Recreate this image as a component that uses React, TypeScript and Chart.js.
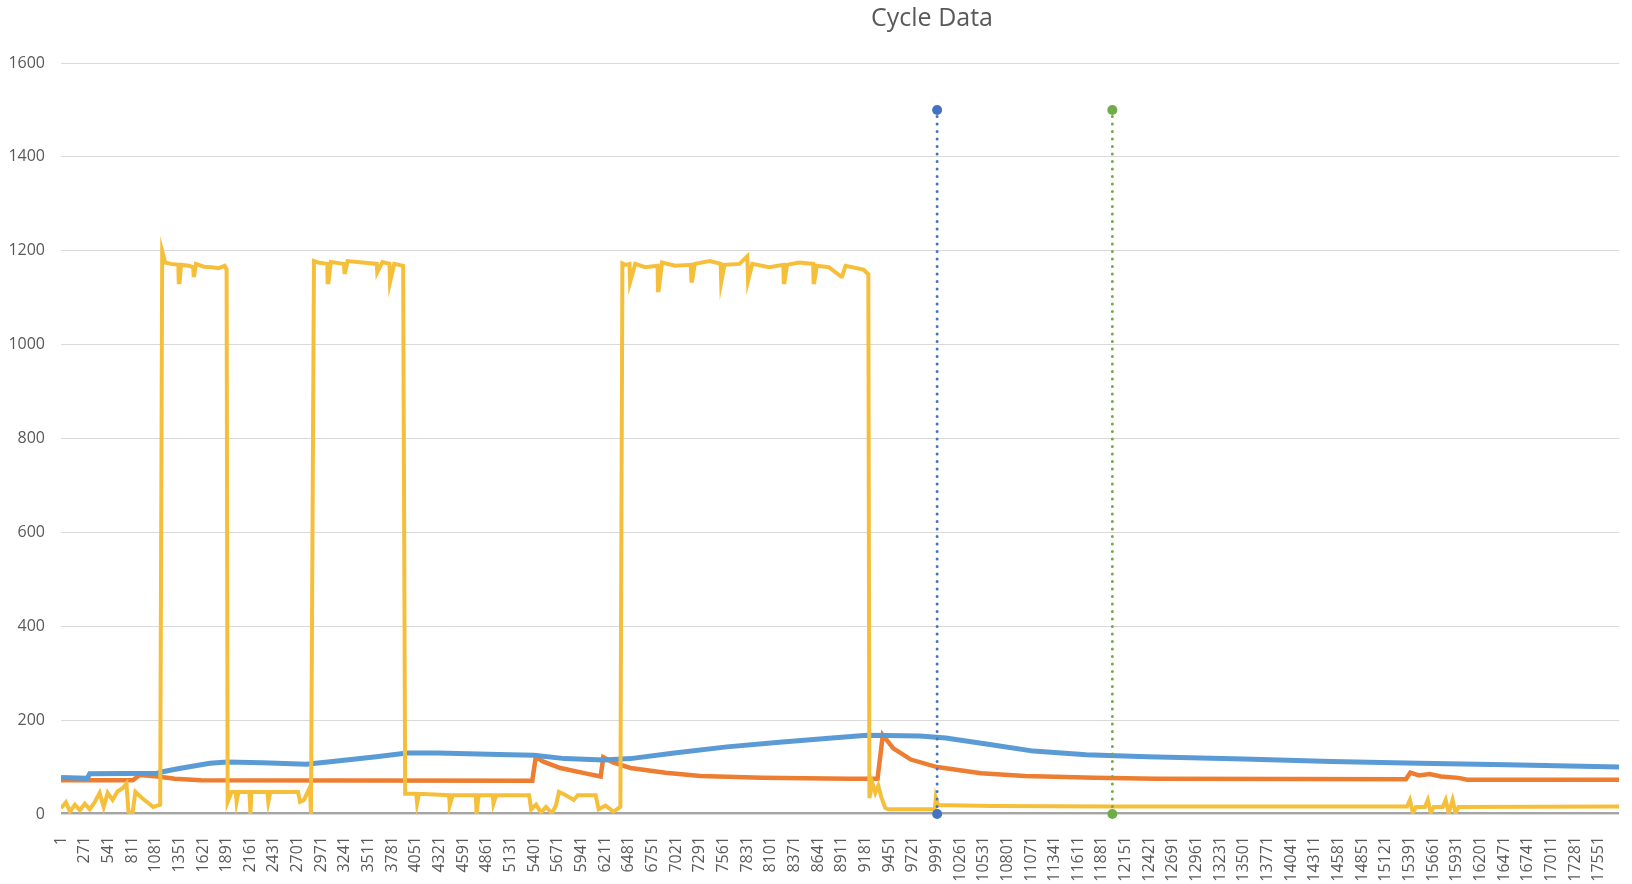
import React, { useEffect, useRef } from 'react';
import { Chart, registerables } from 'chart.js';

Chart.register(...registerables);

// category labels shown under the axis (every 270th cycle)
const cycleTicks = [
  1, 271, 541, 811, 1081, 1351, 1621, 1891, 2161, 2431, 2701, 2971, 3241, 3511, 3781, 4051, 4321,
  4591, 4861, 5131, 5401, 5671, 5941, 6211, 6481, 6751, 7021, 7291, 7561, 7831, 8101, 8371, 8641,
  8911, 9181, 9451, 9721, 9991, 10261, 10531, 10801, 11071, 11341, 11611, 11881, 12151, 12421,
  12691, 12961, 13231, 13501, 13771, 14041, 14311, 14581, 14851, 15121, 15391, 15661, 15931, 16201,
  16471, 16741, 17011, 17281, 17551,
];

const yTicks = [0, 200, 400, 600, 800, 1000, 1200, 1400, 1600];

// [cycle, value]
const yellowSeries: [number, number][] = [
  [1, 12], [57, 25], [103, 5], [160, 20], [216, 8], [273, 22], [329, 10], [386, 25], [442, 45],
  [488, 15], [533, 45], [590, 30], [646, 48], [703, 55], [748, 65], [771, 5], [816, 0], [850, 47],
  [918, 35], [986, 25], [1054, 15], [1133, 20],
  [1156, 1199], [1190, 1175], [1257, 1172], [1340, 1170], [1345, 1133], [1355, 1133], [1371, 1170],
  [1461, 1168], [1510, 1165], [1514, 1148], [1522, 1148], [1541, 1172], [1631, 1166], [1722, 1165],
  [1801, 1163], [1869, 1168], [1891, 1160],
  [1903, 26], [1948, 47], [1995, 47], [2005, 26], [2027, 47], [2152, 47], [2163, 0], [2175, 47],
  [2356, 47], [2367, 26], [2390, 47], [2706, 47], [2729, 26], [2774, 30], [2842, 57], [2854, 0],
  [2888, 1178], [2933, 1175], [3040, 1172], [3044, 1133], [3054, 1133], [3080, 1176], [3230, 1172],
  [3236, 1154], [3244, 1154], [3272, 1178], [3442, 1175], [3605, 1172], [3610, 1154], [3618, 1154],
  [3669, 1176], [3750, 1172], [3756, 1133], [3764, 1133], [3804, 1172], [3906, 1168],
  [3929, 43], [4055, 43], [4065, 23], [4087, 43], [4430, 40], [4438, 19], [4472, 40], [4735, 40],
  [4744, 0], [4767, 40], [4930, 40], [4937, 22], [4970, 40], [5344, 40], [5367, 10], [5423, 20],
  [5480, 3], [5536, 15], [5604, 2], [5650, 18], [5684, 47], [5763, 40], [5853, 30], [5899, 40],
  [6103, 40], [6137, 10], [6216, 18], [6306, 5], [6385, 15],
  [6408, 1173], [6442, 1170], [6490, 1172], [6496, 1133], [6504, 1133], [6555, 1172], [6668, 1165],
  [6810, 1168], [6814, 1116], [6822, 1116], [6861, 1175], [7008, 1168], [7190, 1170], [7196, 1136],
  [7204, 1136], [7234, 1172], [7404, 1178], [7530, 1172], [7536, 1133], [7544, 1133], [7574, 1170],
  [7744, 1172], [7834, 1188], [7842, 1136], [7850, 1136], [7891, 1172], [8083, 1165], [8245, 1170],
  [8250, 1133], [8258, 1133], [8287, 1170], [8423, 1175], [8585, 1172], [8590, 1133], [8598, 1133],
  [8627, 1168], [8763, 1165], [8905, 1145], [8915, 1145], [8955, 1168], [9159, 1160], [9215, 1150],
  [9227, 34], [9261, 66], [9295, 45], [9329, 60], [9363, 36], [9408, 13], [9442, 10], [9974, 10],
  [9985, 34], [10008, 19], [10630, 17], [12000, 16], [15362, 16], [15396, 30], [15430, 2],
  [15464, 15], [15566, 15], [15600, 30], [15634, 2], [15668, 15], [15770, 15], [15804, 30],
  [15838, 2], [15883, 30], [15917, 2], [15951, 15], [17785, 16],
];

const blueSeries: [number, number][] = [
  [1, 78], [300, 76], [330, 86], [1100, 87], [1160, 90], [1350, 97], [1700, 108], [1900, 111],
  [2300, 109], [2800, 106], [3100, 112], [3600, 122], [3950, 130], [4300, 130], [5000, 127],
  [5400, 125], [5750, 118], [6200, 115], [6500, 118], [7000, 130], [7600, 143], [8200, 153],
  [8800, 162], [9200, 168], [9800, 166], [10100, 162], [10600, 148], [11100, 134], [11700, 126],
  [12400, 122], [13500, 117], [14500, 112], [15500, 108], [16500, 105], [17785, 100],
];

const orangeSeries: [number, number][] = [
  [1, 72], [700, 72], [820, 72], [900, 83], [1100, 80], [1300, 75], [1600, 72], [5380, 71],
  [5420, 122], [5500, 112], [5700, 98], [6000, 86], [6160, 80], [6190, 121], [6300, 110],
  [6500, 98], [6900, 88], [7300, 81], [8000, 77], [9000, 75], [9320, 75], [9380, 168], [9500, 140],
  [9700, 116], [10000, 100], [10500, 87], [11000, 81], [11800, 77], [12500, 75], [15350, 74],
  [15400, 88], [15500, 82], [15620, 85], [15750, 80], [15950, 77], [16050, 73], [17785, 73],
];

const graySeries: [number, number][] = [[1, 0], [17785, 0]];

const markerBlue: [number, number][] = [[10000, 0], [10000, 1500]];
const markerGreen: [number, number][] = [[12000, 0], [12000, 1500]];

const toPoints = (s: [number, number][]) => s.map(([x, y]) => ({ x, y }));

const tickColor = '#595959';

const titlePlugin = {
  id: 'cycleTitle',
  afterDraw(chart: any) {
    const ctx = chart.ctx;
    ctx.save();
    ctx.font = '25px "Open Sans"';
    ctx.fillStyle = tickColor;
    ctx.textAlign = 'center';
    ctx.textBaseline = 'middle';
    ctx.fillText('Cycle Data', 932, 19);
    ctx.restore();
  },
};

const lineSet = (data: [number, number][], color: string, width: number) => ({
  data: toPoints(data),
  borderColor: color,
  backgroundColor: color,
  borderWidth: width,
  pointRadius: 0,
  tension: 0,
  fill: false,
});

const markerSet = (data: [number, number][], color: string) => ({
  data: toPoints(data),
  borderColor: color,
  backgroundColor: color,
  pointBackgroundColor: color,
  pointBorderColor: color,
  borderWidth: 3,
  borderDash: [0, 7.5],
  borderCapStyle: 'round',
  pointRadius: 5,
  pointBorderWidth: 0,
  tension: 0,
  fill: false,
  clip: false,
});

const CycleChart = () => {
  const chartRef = useRef<HTMLCanvasElement | null>(null);
  const chartInstance = useRef<Chart | null>(null);

  useEffect(() => {
    if (!chartRef.current) return;
    if (chartInstance.current) chartInstance.current.destroy();

    chartInstance.current = new Chart(chartRef.current, {
      type: 'line',
      data: {
        datasets: [
          markerSet(markerBlue, '#4472C4'),
          markerSet(markerGreen, '#70AD47'),
          lineSet(yellowSeries, '#F6BF3A', 4),
          lineSet(blueSeries, '#5B9BD5', 5),
          lineSet(orangeSeries, '#ED7D31', 4.5),
          lineSet(graySeries, '#A5A5A5', 4),
        ] as any,
      },
      options: {
        animation: false,
        responsive: true,
        maintainAspectRatio: false,
        layout: { padding: { top: 63, left: 0, right: 0, bottom: 0 } },
        plugins: {
          legend: { display: false },
          tooltip: { enabled: false },
          title: { display: false },
        },
        scales: {
          x: {
            type: 'linear',
            min: 1,
            max: 17785,
            grid: { display: false },
            border: { display: false },
            afterBuildTicks: (scale: any) => {
              scale.ticks = cycleTicks.map((v) => ({ value: v }));
            },
            afterFit: (scale: any) => {
              scale.height = 70;
            },
            ticks: {
              autoSkip: false,
              minRotation: 90,
              maxRotation: 90,
              padding: 14,
              color: tickColor,
              font: { family: '"Open Sans"', size: 16 },
              callback: (value: any) => String(value),
            },
          },
          y: {
            min: 0,
            max: 1600,
            grid: { color: '#D9D9D9', lineWidth: 1, drawTicks: false },
            border: { display: false },
            afterBuildTicks: (scale: any) => {
              scale.ticks = yTicks.map((v) => ({ value: v }));
            },
            afterFit: (scale: any) => {
              scale.width = 61;
            },
            ticks: {
              padding: 16,
              color: tickColor,
              font: { family: '"Open Sans"', size: 16 },
              callback: (value: any) => String(value),
            },
          },
        },
      },
      plugins: [titlePlugin],
    });

    return () => {
      if (chartInstance.current) {
        chartInstance.current.destroy();
        chartInstance.current = null;
      }
    };
  }, []);

  return (
    <div style={{ position: 'fixed', left: 0, top: 0, width: 1632, height: 884, background: '#fff' }}>
      <canvas ref={chartRef} />
    </div>
  );
};

export default function App() {
  return <CycleChart />;
}
